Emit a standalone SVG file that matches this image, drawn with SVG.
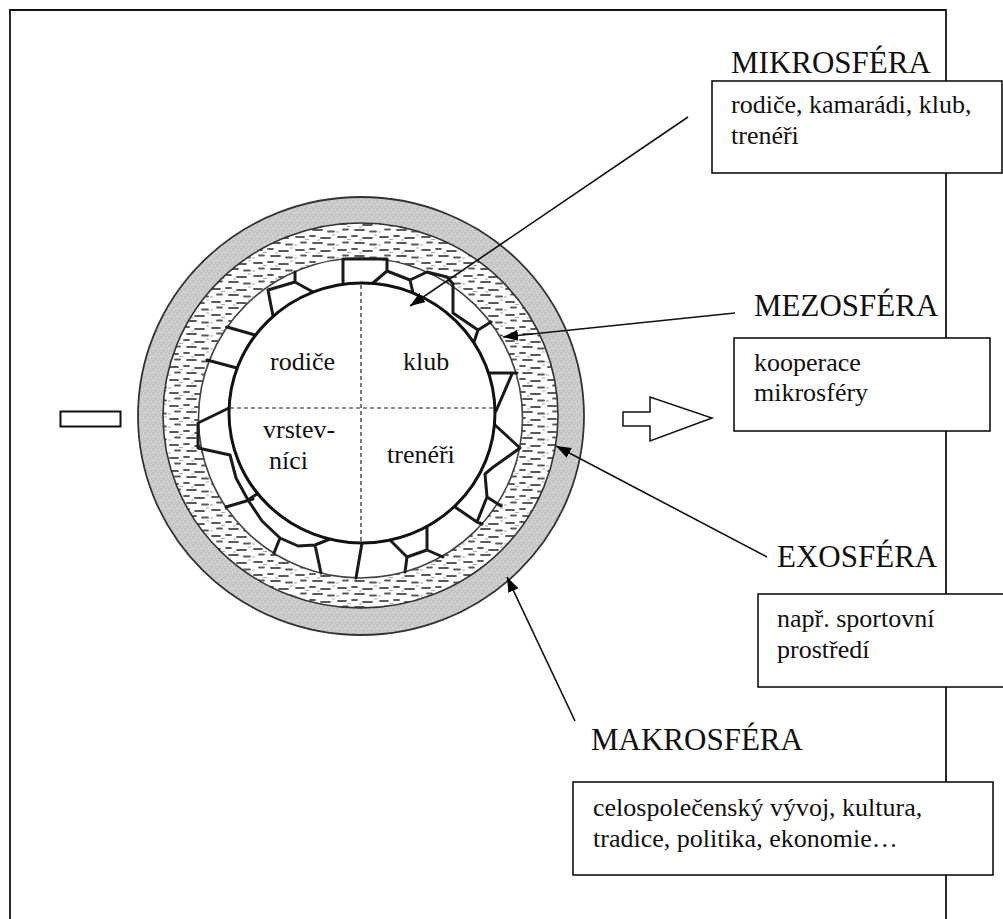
<svg xmlns="http://www.w3.org/2000/svg" width="1003" height="919" viewBox="0 0 1003 919">
<style>
.t{font-family:"Liberation Serif","Times New Roman",serif;fill:#111}
.h{font-size:31px}
.b{font-size:26px}
.box{fill:#fff;stroke:#111;stroke-width:1.6}
.con{fill:none;stroke:#111;stroke-width:1.6}
.wall{fill:none;stroke:#1a1a1a;stroke-width:3;stroke-linejoin:round;stroke-linecap:round}
.dash{fill:none;stroke:#222;stroke-width:1.2;stroke-dasharray:4 3}
</style>
<defs>
<pattern id="grain" width="8" height="8" patternUnits="userSpaceOnUse">
<rect width="8" height="8" fill="#cbcbcb"/>
<rect x="1" y="1" width="1" height="1" fill="#a8a8a8"/>
<rect x="5" y="3" width="1" height="1" fill="#acacac"/>
<rect x="3" y="6" width="1" height="1" fill="#a8a8a8"/>
<rect x="7" y="6" width="1" height="1" fill="#b4b4b4"/>
<rect x="3" y="2" width="1" height="1" fill="#e0e0e0"/>
<rect x="6" y="5" width="1" height="1" fill="#e0e0e0"/>
<rect x="0" y="4" width="1" height="1" fill="#e4e4e4"/>
</pattern>
<pattern id="waves" width="42" height="13" patternUnits="userSpaceOnUse">
<rect width="42" height="13" fill="#fff"/>
<path d="M2 3h8M16 2h5M27 4h9M7 8.5h5M19 9h9M34 10.5h6" stroke="#5a5a5a" stroke-width="1.8" stroke-linecap="round"/>
<path d="M11 5.5h4M0 11h3M23 6h3M38 1h3" stroke="#aaa" stroke-width="1.2"/>
</pattern>
<marker id="ah" markerUnits="userSpaceOnUse" markerWidth="15" markerHeight="11" refX="15" refY="5.5" orient="auto">
<path d="M0,0 L15,5.5 L0,11 z" fill="#000"/>
</marker>
</defs>
<rect width="1003" height="919" fill="#fff"/>
<g id="frame" fill="none" stroke="#111" stroke-width="1.8">
<path d="M10,919 L10,10 L946,10 L946,919"/>
</g>
<g id="sphere-diagram">
<ellipse cx="361" cy="416" rx="223" ry="219" fill="url(#grain)" stroke="#333" stroke-width="1.8"/>
<ellipse cx="360.5" cy="415.5" rx="197.5" ry="192.5" fill="url(#waves)" stroke="#333" stroke-width="1.6"/>
<ellipse cx="360.5" cy="418" rx="162" ry="160" fill="#fff" stroke="#444" stroke-width="1.6"/>
<path class="wall" d="M343,283 L343,259 L387,259 L387,271 L373,283 M387,271 L410,280 L427,272 L447,277 L453,284 L453,313 L478,330 L474,342 M410,280 L413,293 M478,330 L491,322 M488,373 L517,373 M512,374 L496,411 M495,425 L520,448 L492,468 L485,474 L487,497 L501,506 M487,497 L477,522 M455,507 L477,522 L482,524 M427,527 L427,550 L443,557 M427,550 L407,557 L405,572 M407,557 L390,540 M362,543 L356,578 M315,545 L321,573 M230,455 L236,478 L248,500 L262,521 L280,538 L298,546 L315,545 L330,539 M226,507 L253,499 M248,500 L257,494 M280,538 L274,553 M229,408 L198,423 L198,448 L230,455 M207,360 L237,368 M227,327 L255,335 M295,272 L295,282 L268,290 L273,316 M295,282 L313,292"/>
<ellipse cx="362" cy="413" rx="133" ry="130" fill="#fff" stroke="#111" stroke-width="3"/>
<path class="dash" d="M361,285 L361,542 M230,408 L495,408"/>
<text class="t b" x="270" y="370">rodiče</text>
<text class="t b" x="403" y="370">klub</text>
<text class="t b" x="263" y="438">vrstev-</text>
<text class="t b" x="269" y="469">níci</text>
<text class="t b" x="387" y="463">trenéři</text>
</g>
<g id="left-bar">
<rect x="60.5" y="411.5" width="60" height="15" fill="#fff" stroke="#111" stroke-width="2"/>
</g>
<g id="right-arrow">
<polygon points="623,412 650,412 650,397 712,418 650,441 650,426 623,426" fill="#fff" stroke="#111" stroke-width="1.5"/>
</g>
<g id="connectors">
<line class="con" x1="688" y1="117" x2="410" y2="306" marker-end="url(#ah)"/>
<line class="con" x1="735" y1="313" x2="503" y2="337" marker-end="url(#ah)"/>
<line class="con" x1="767" y1="557" x2="556" y2="446" marker-end="url(#ah)"/>
<line class="con" x1="575" y1="721" x2="507" y2="577" marker-end="url(#ah)"/>
</g>
<g id="mikrosfera">
<text class="t h" x="731" y="73">MIKROSFÉRA</text>
<rect class="box" x="712" y="81" width="290" height="92"/>
<text class="t b" x="731" y="113">rodiče, kamarádi, klub,</text>
<text class="t b" x="731" y="144">trenéři</text>
</g>
<g id="mezosfera">
<text class="t h" x="754" y="316">MEZOSFÉRA</text>
<rect class="box" x="734" y="338" width="256" height="93"/>
<text class="t b" x="754" y="371">kooperace</text>
<text class="t b" x="754" y="401">mikrosféry</text>
</g>
<g id="exosfera">
<text class="t h" x="777" y="567">EXOSFÉRA</text>
<rect class="box" x="758" y="594" width="250" height="93"/>
<text class="t b" x="777" y="627">např. sportovní</text>
<text class="t b" x="777" y="658">prostředí</text>
</g>
<g id="makrosfera">
<text class="t h" x="591" y="750">MAKROSFÉRA</text>
<rect class="box" x="573" y="782" width="420" height="93"/>
<text class="t b" x="593" y="816">celospolečenský vývoj, kultura,</text>
<text class="t b" x="593" y="847">tradice, politika, ekonomie…</text>
</g>
</svg>
